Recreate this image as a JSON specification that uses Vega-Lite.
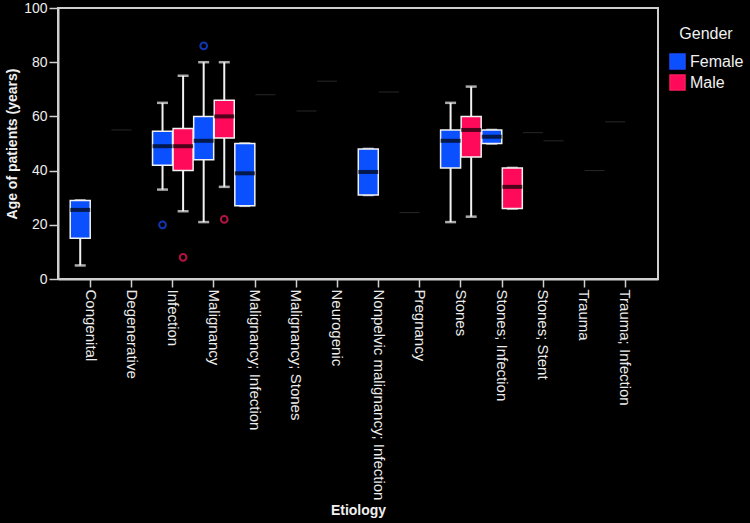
{
  "$schema": "https://vega.github.io/schema/vega-lite/v6.json",
  "autosize": "none",
  "width": 600,
  "height": 271,
  "padding": {"left": 58, "top": 8, "right": 92, "bottom": 244},
  "background": "#000000",
  "config": {
    "view": {"stroke": "#cfcfcf", "strokeWidth": 2},
    "axis": {
      "labelFont": "Liberation Sans",
      "labelFontSize": 14,
      "labelColor": "#ececec",
      "titleFont": "Liberation Sans",
      "titleFontSize": 14,
      "titleFontWeight": "bold",
      "titleColor": "#f0f0f0",
      "domainColor": "#cfcfcf",
      "domainWidth": 2,
      "tickColor": "#cfcfcf",
      "tickWidth": 1.5,
      "grid": false
    },
    "legend": {
      "titleFont": "Liberation Sans",
      "titleFontSize": 16,
      "titleFontWeight": "normal",
      "titleColor": "#f0f0f0",
      "labelFont": "Liberation Sans",
      "labelFontSize": 17,
      "labelColor": "#f0f0f0"
    }
  },
  "datasets": {
    "boxes": [
      {"Etiology": "Congenital", "Gender": "Female", "lower": 5, "q1": 15, "median": 25.5, "q3": 29, "upper": 29},
      {"Etiology": "Infection", "Gender": "Female", "lower": 33, "q1": 42, "median": 49, "q3": 54.5, "upper": 65},
      {"Etiology": "Infection", "Gender": "Male", "lower": 25, "q1": 40, "median": 49, "q3": 55.5, "upper": 75},
      {"Etiology": "Malignancy", "Gender": "Female", "lower": 21, "q1": 44, "median": 51, "q3": 60, "upper": 80},
      {"Etiology": "Malignancy", "Gender": "Male", "lower": 34, "q1": 52, "median": 60, "q3": 66, "upper": 80},
      {"Etiology": "Malignancy; Infection", "Gender": "Female", "lower": 27, "q1": 27, "median": 39, "q3": 50, "upper": 50},
      {"Etiology": "Nonpelvic malignancy; Infection", "Gender": "Female", "lower": 31, "q1": 31, "median": 39.5, "q3": 48, "upper": 48},
      {"Etiology": "Stones", "Gender": "Female", "lower": 21, "q1": 41, "median": 51, "q3": 55, "upper": 65},
      {"Etiology": "Stones", "Gender": "Male", "lower": 23, "q1": 45, "median": 55, "q3": 60, "upper": 71},
      {"Etiology": "Stones; Infection", "Gender": "Female", "lower": 50, "q1": 50, "median": 52.5, "q3": 55, "upper": 55},
      {"Etiology": "Stones; Infection", "Gender": "Male", "lower": 26, "q1": 26, "median": 34, "q3": 41, "upper": 41}
    ],
    "outliers": [
      {"Etiology": "Infection", "Gender": "Female", "age": 20},
      {"Etiology": "Infection", "Gender": "Male", "age": 8},
      {"Etiology": "Malignancy", "Gender": "Female", "age": 86},
      {"Etiology": "Malignancy", "Gender": "Male", "age": 22}
    ],
    "singles": [
      {"Etiology": "Degenerative", "Gender": "Female", "age": 55},
      {"Etiology": "Malignancy; Infection", "Gender": "Male", "age": 68},
      {"Etiology": "Malignancy; Stones", "Gender": "Male", "age": 62},
      {"Etiology": "Neurogenic", "Gender": "Female", "age": 73},
      {"Etiology": "Nonpelvic malignancy; Infection", "Gender": "Male", "age": 69},
      {"Etiology": "Pregnancy", "Gender": "Female", "age": 24.5},
      {"Etiology": "Stones; Stent", "Gender": "Female", "age": 54},
      {"Etiology": "Stones; Stent", "Gender": "Male", "age": 51},
      {"Etiology": "Trauma", "Gender": "Male", "age": 40},
      {"Etiology": "Trauma; Infection", "Gender": "Female", "age": 58}
    ]
  },
  "encoding": {
    "x": {
      "field": "Etiology",
      "type": "nominal",
      "scale": {
        "domain": ["Congenital", "Degenerative", "Infection", "Malignancy", "Malignancy; Infection", "Malignancy; Stones", "Neurogenic", "Nonpelvic malignancy; Infection", "Pregnancy", "Stones", "Stones; Infection", "Stones; Stent", "Trauma", "Trauma; Infection"],
        "paddingInner": 0,
        "paddingOuter": 0.29
      },
      "axis": {"title": "Etiology", "labelAngle": 90, "labelAlign": "left", "labelBaseline": "middle", "tickSize": 8, "labelPadding": 2, "labelFontSize": 15, "titlePadding": 24, "labelLimit": 300}
    },
    "xOffset": {
      "field": "Gender",
      "type": "nominal",
      "scale": {"domain": ["Female", "Male"], "paddingInner": 0, "paddingOuter": 0}
    }
  },
  "layer": [
    {
      "data": {"name": "boxes"},
      "mark": {"type": "rule", "color": "#f2f2f2", "strokeWidth": 2},
      "encoding": {
        "y": {"field": "lower", "type": "quantitative", "scale": {"domain": [0, 100], "nice": false},
          "axis": {"title": "Age of patients (years)", "values": [0, 20, 40, 60, 80, 100], "tickSize": 9, "labelPadding": 2, "titlePadding": 4}},
        "y2": {"field": "upper"}
      }
    },
    {
      "data": {"name": "boxes"},
      "mark": {"type": "tick", "color": "#f2f2f2", "size": 11, "thickness": 2.5},
      "encoding": {"y": {"field": "lower", "type": "quantitative"}}
    },
    {
      "data": {"name": "boxes"},
      "mark": {"type": "tick", "color": "#f2f2f2", "size": 11, "thickness": 2.5},
      "encoding": {"y": {"field": "upper", "type": "quantitative"}}
    },
    {
      "data": {"name": "boxes"},
      "mark": {"type": "bar", "width": 20, "stroke": "#f2f2f2", "strokeWidth": 1.5},
      "encoding": {
        "y": {"field": "q1", "type": "quantitative"},
        "y2": {"field": "q3"},
        "color": {
          "field": "Gender",
          "type": "nominal",
          "scale": {"domain": ["Female", "Male"], "range": ["#0a50ff", "#ff0a5a"]},
          "legend": {"title": "Gender", "orient": "none", "legendX": 611, "legendY": 18, "symbolType": "square", "symbolSize": 225, "symbolStrokeColor": "#f2f2f2", "symbolStrokeWidth": 1.5, "symbolOpacity": 1, "titleAnchor": "middle", "titlePadding": 11, "rowPadding": 0, "labelOffset": 4, "labelFontSize": 16}
        }
      }
    },
    {
      "data": {"name": "boxes"},
      "mark": {"type": "tick", "color": "#000000", "size": 20, "thickness": 4},
      "encoding": {"y": {"field": "median", "type": "quantitative"}}
    },
    {
      "data": {"name": "outliers"},
      "mark": {"type": "point", "filled": false, "size": 45, "strokeWidth": 2},
      "encoding": {
        "y": {"field": "age", "type": "quantitative"},
        "stroke": {"field": "Gender", "type": "nominal", "scale": {"domain": ["Female", "Male"], "range": ["#1a4cff", "#ff1a5e"]}, "legend": null}
      }
    },
    {
      "data": {"name": "singles"},
      "mark": {"type": "tick", "color": "#383838", "size": 20, "thickness": 1},
      "encoding": {"y": {"field": "age", "type": "quantitative"}}
    }
  ]
}
